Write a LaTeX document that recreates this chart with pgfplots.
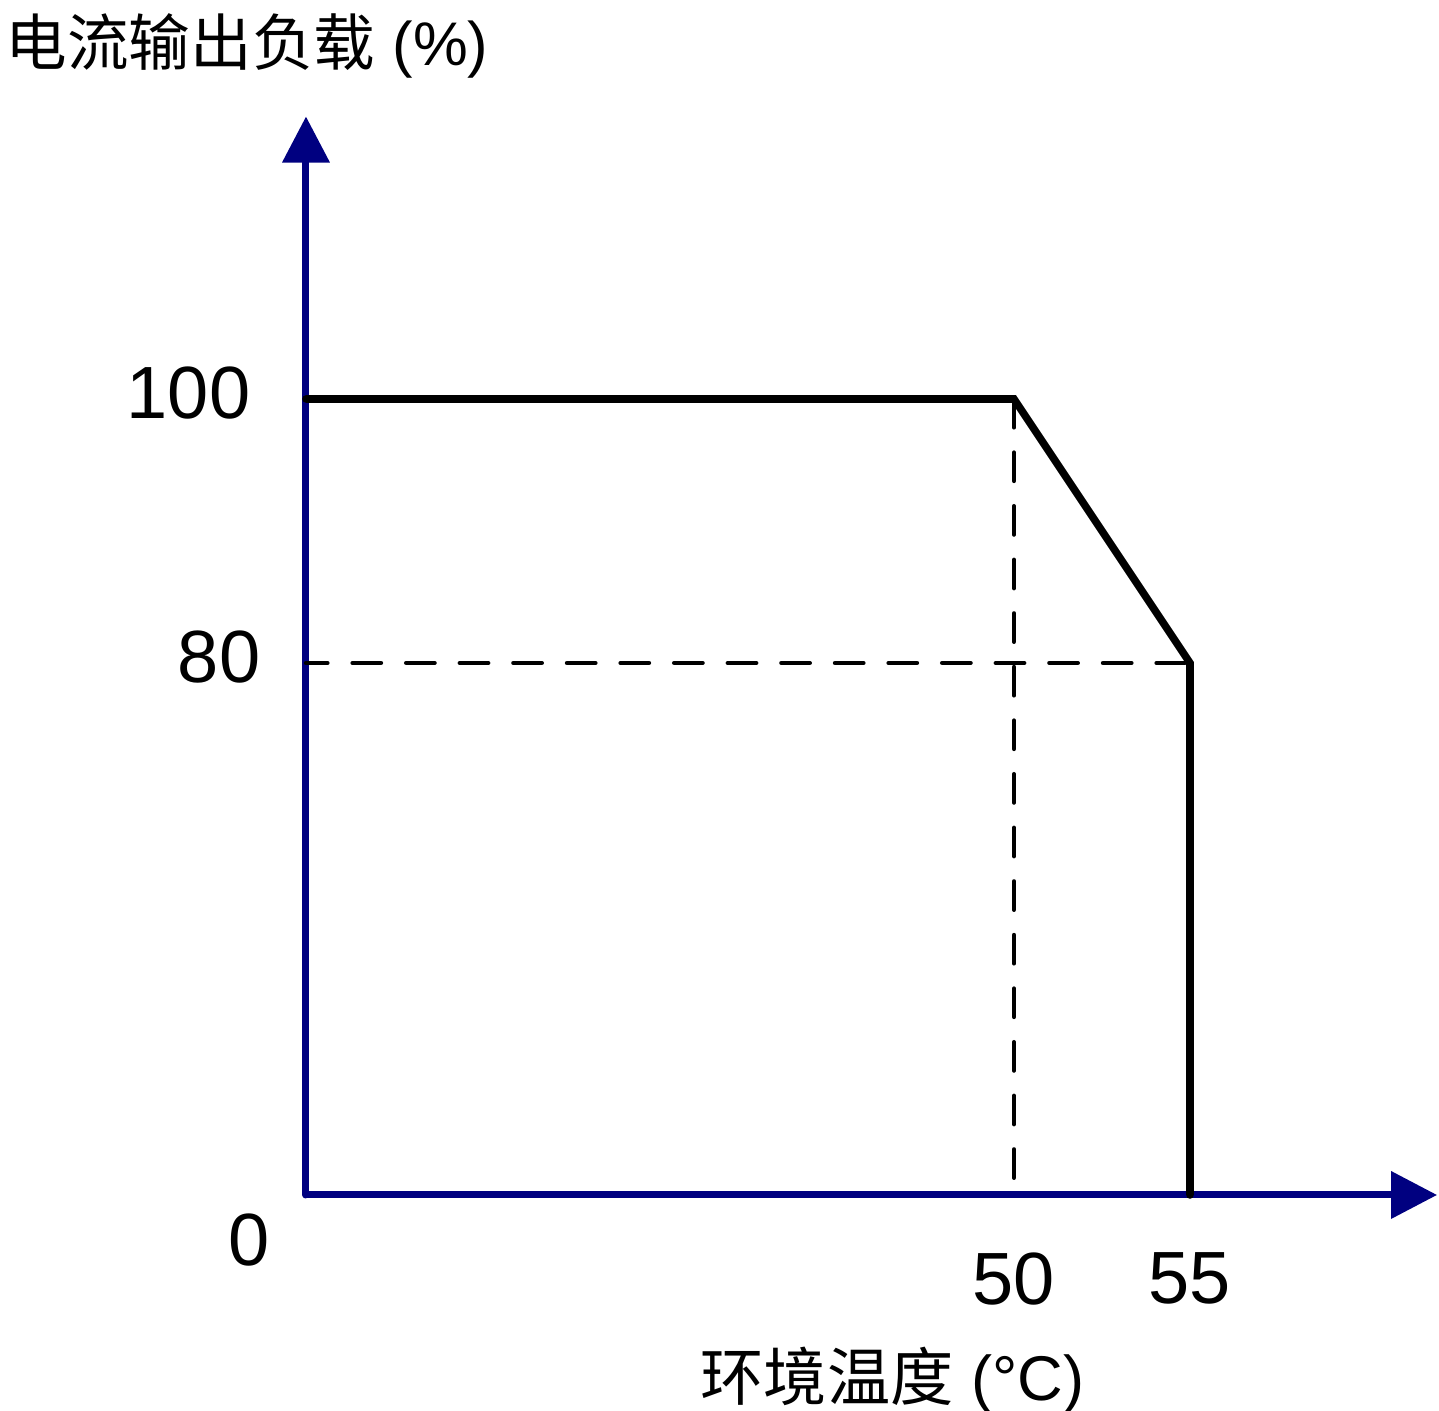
\documentclass[border=0pt]{standalone}
\usepackage{fontspec}
\setmainfont{Liberation Sans}
\newfontfamily\cjk{Noto Sans CJK SC}
\usepackage{pgfplots}
\pgfplotsset{compat=1.18}
\usetikzlibrary{arrows.meta}
\definecolor{axisblue}{RGB}{0,0,128}

\begin{document}
\begin{tikzpicture}
\begin{axis}[
    anchor=origin, at={(0pt,0pt)},
    x=0.25pt, y=0.25pt,
    % schematic axes: the two segments of each axis have different scales
    x coord trafo/.code={\pgfmathparse{(#1<=50) ? (#1*14.16) : (708+(#1-50)*35.2)}},
    y coord trafo/.code={\pgfmathparse{(#1<=80) ? (#1*6.65) : (532+(#1-80)*13.2)}},
    xmin=0, xmax=62.02,
    ymin=0, ymax=121.4,
    axis lines=left,
    axis line style={draw=axisblue, line width=1.75pt, line cap=round},
    x axis line style={-{Triangle[length=11.5pt, width=11.5pt]}},
    y axis line style={-{Triangle[length=11.5pt, width=11.5pt]}},
    xtick={50,55}, xticklabels={50,55},
    ytick={100}, yticklabels={100},
    extra y ticks={80}, extra y tick labels={80},
    extra y tick style={yticklabel style={xshift=2.5pt}},
    major tick length=0pt,
    tick style={draw=none},
    ticklabel style={font=\fontsize{18.5}{22}\selectfont, inner sep=0pt},
    xticklabel style={anchor=north, yshift=-14.25pt},
    yticklabel style={anchor=east, xshift=-13.75pt, yshift=1.4pt},
    clip=false,
]
\addplot[black, line width=1.1pt, line cap=round, dash pattern=on 7.1pt off 6.3pt, dash phase=1.75pt]
    coordinates {(0,80) (55,80)};
\addplot[black, line width=1.1pt, line cap=round, dash pattern=on 7.1pt off 6.3pt]
    coordinates {(50,100) (50,0)};
\addplot[black, line width=1.9pt, line cap=round, line join=miter]
    coordinates {(0,100) (50,100) (55,80) (55,0)};
\end{axis}
\node[anchor=north east, inner sep=0pt, font=\fontsize{18.5}{22}\selectfont] at (-9pt,-4.5pt) {0};
\node[anchor=base west, inner sep=0pt, font=\fontsize{15.4}{18}\selectfont] at (-75.25pt,282.25pt) {{\cjk 电流输出负载} (\%)};
\node[anchor=base west, inner sep=0pt, font=\fontsize{15.8}{18}\selectfont] at (98.5pt,-51.5pt) {{\cjk 环境温度} (°C)};
\pgfresetboundingbox
\path[use as bounding box] (-76.5pt,-54pt) rectangle (283.25pt,298.75pt);
\end{tikzpicture}
\end{document}
